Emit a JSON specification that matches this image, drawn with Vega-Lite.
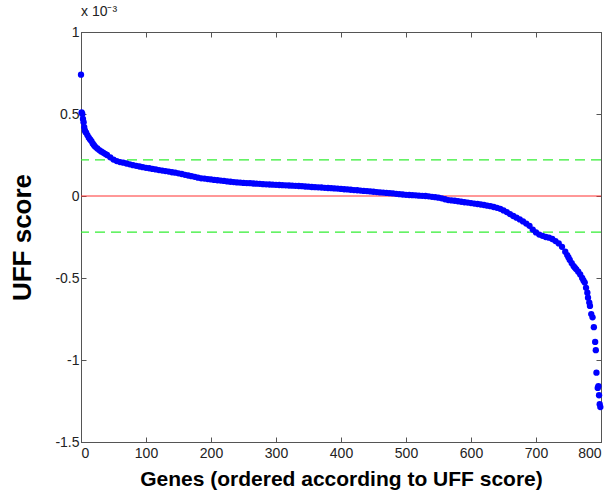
{
  "$schema": "https://vega.github.io/schema/vega-lite/v6.json",
  "width": 520,
  "height": 410,
  "autosize": {"type": "none"},
  "padding": {"left": 81, "top": 32, "right": 12, "bottom": 51},
  "background": "white",
  "title": {"text": "x 10⁻³", "anchor": "start", "frame": "group", "fontSize": 14, "fontWeight": "normal", "font": "Liberation Sans", "color": "#222", "offset": 6},
  "config": {
    "view": {"stroke": "#555", "strokeWidth": 1},
    "axis": {"grid": false, "domainColor": "#555", "tickColor": "#555", "tickSize": -5, "labelFont": "Liberation Sans", "labelFontSize": 14, "labelColor": "#222", "titleFont": "Liberation Sans", "titleFontWeight": "bold", "titleColor": "#000"}
  },
  "datasets": {
    "genes": [
      {"gene": 0, "score": 0.74}, {"gene": 1, "score": 0.51}, {"gene": 2, "score": 0.5}, {"gene": 3, "score": 0.47}, {"gene": 4, "score": 0.45},
      {"gene": 5, "score": 0.42}, {"gene": 6, "score": 0.4}, {"gene": 7, "score": 0.39}, {"gene": 8, "score": 0.385}, {"gene": 10, "score": 0.37},
      {"gene": 12, "score": 0.355}, {"gene": 14, "score": 0.345}, {"gene": 16, "score": 0.335}, {"gene": 18, "score": 0.32}, {"gene": 20, "score": 0.31},
      {"gene": 22, "score": 0.3}, {"gene": 25, "score": 0.29}, {"gene": 28, "score": 0.28}, {"gene": 31, "score": 0.272}, {"gene": 34, "score": 0.265},
      {"gene": 37, "score": 0.257}, {"gene": 40, "score": 0.25}, {"gene": 45, "score": 0.236}, {"gene": 50, "score": 0.222}, {"gene": 55, "score": 0.213},
      {"gene": 60, "score": 0.207}, {"gene": 65, "score": 0.203}, {"gene": 70, "score": 0.198}, {"gene": 75, "score": 0.193}, {"gene": 80, "score": 0.188},
      {"gene": 85, "score": 0.184}, {"gene": 90, "score": 0.18}, {"gene": 95, "score": 0.176}, {"gene": 100, "score": 0.172}, {"gene": 105, "score": 0.169},
      {"gene": 110, "score": 0.165}, {"gene": 115, "score": 0.162}, {"gene": 120, "score": 0.158}, {"gene": 125, "score": 0.155}, {"gene": 130, "score": 0.152},
      {"gene": 135, "score": 0.149}, {"gene": 140, "score": 0.145}, {"gene": 145, "score": 0.142}, {"gene": 150, "score": 0.138}, {"gene": 155, "score": 0.134},
      {"gene": 160, "score": 0.129}, {"gene": 165, "score": 0.125}, {"gene": 170, "score": 0.121}, {"gene": 175, "score": 0.117}, {"gene": 180, "score": 0.112},
      {"gene": 185, "score": 0.108}, {"gene": 190, "score": 0.106}, {"gene": 195, "score": 0.103}, {"gene": 200, "score": 0.101}, {"gene": 205, "score": 0.098},
      {"gene": 210, "score": 0.096}, {"gene": 215, "score": 0.094}, {"gene": 220, "score": 0.092}, {"gene": 225, "score": 0.089}, {"gene": 230, "score": 0.087},
      {"gene": 235, "score": 0.085}, {"gene": 240, "score": 0.083}, {"gene": 245, "score": 0.082}, {"gene": 250, "score": 0.08}, {"gene": 255, "score": 0.079},
      {"gene": 260, "score": 0.078}, {"gene": 265, "score": 0.076}, {"gene": 270, "score": 0.075}, {"gene": 275, "score": 0.074}, {"gene": 280, "score": 0.072},
      {"gene": 285, "score": 0.071}, {"gene": 290, "score": 0.07}, {"gene": 295, "score": 0.069}, {"gene": 300, "score": 0.068}, {"gene": 305, "score": 0.067},
      {"gene": 310, "score": 0.066}, {"gene": 315, "score": 0.065}, {"gene": 320, "score": 0.064}, {"gene": 325, "score": 0.063}, {"gene": 330, "score": 0.062},
      {"gene": 335, "score": 0.061}, {"gene": 340, "score": 0.06}, {"gene": 345, "score": 0.058}, {"gene": 350, "score": 0.057}, {"gene": 355, "score": 0.055},
      {"gene": 360, "score": 0.054}, {"gene": 365, "score": 0.053}, {"gene": 370, "score": 0.052}, {"gene": 375, "score": 0.05}, {"gene": 380, "score": 0.049},
      {"gene": 385, "score": 0.048}, {"gene": 390, "score": 0.046}, {"gene": 395, "score": 0.045}, {"gene": 400, "score": 0.043}, {"gene": 405, "score": 0.041},
      {"gene": 410, "score": 0.04}, {"gene": 415, "score": 0.038}, {"gene": 420, "score": 0.036}, {"gene": 425, "score": 0.035}, {"gene": 430, "score": 0.033},
      {"gene": 435, "score": 0.031}, {"gene": 440, "score": 0.03}, {"gene": 445, "score": 0.028}, {"gene": 450, "score": 0.026}, {"gene": 455, "score": 0.024},
      {"gene": 460, "score": 0.022}, {"gene": 465, "score": 0.021}, {"gene": 470, "score": 0.019}, {"gene": 475, "score": 0.017}, {"gene": 480, "score": 0.016},
      {"gene": 485, "score": 0.013}, {"gene": 490, "score": 0.011}, {"gene": 495, "score": 0.009}, {"gene": 500, "score": 0.007}, {"gene": 505, "score": 0.006},
      {"gene": 510, "score": 0.005}, {"gene": 515, "score": 0.004}, {"gene": 520, "score": 0.002}, {"gene": 525, "score": 0.001}, {"gene": 530, "score": 0.0},
      {"gene": 535, "score": -0.002}, {"gene": 540, "score": -0.005}, {"gene": 545, "score": -0.007}, {"gene": 550, "score": -0.01}, {"gene": 555, "score": -0.014},
      {"gene": 560, "score": -0.02}, {"gene": 565, "score": -0.025}, {"gene": 570, "score": -0.027}, {"gene": 575, "score": -0.029}, {"gene": 580, "score": -0.032},
      {"gene": 585, "score": -0.035}, {"gene": 590, "score": -0.038}, {"gene": 595, "score": -0.04}, {"gene": 600, "score": -0.043}, {"gene": 605, "score": -0.046},
      {"gene": 610, "score": -0.049}, {"gene": 615, "score": -0.052}, {"gene": 620, "score": -0.055}, {"gene": 625, "score": -0.059}, {"gene": 630, "score": -0.062},
      {"gene": 635, "score": -0.067}, {"gene": 640, "score": -0.072}, {"gene": 645, "score": -0.078}, {"gene": 650, "score": -0.088}, {"gene": 655, "score": -0.098},
      {"gene": 660, "score": -0.11}, {"gene": 665, "score": -0.122}, {"gene": 670, "score": -0.132}, {"gene": 675, "score": -0.143}, {"gene": 680, "score": -0.155},
      {"gene": 685, "score": -0.168}, {"gene": 690, "score": -0.182}, {"gene": 695, "score": -0.205}, {"gene": 700, "score": -0.222}, {"gene": 705, "score": -0.235},
      {"gene": 710, "score": -0.243}, {"gene": 715, "score": -0.25}, {"gene": 720, "score": -0.254}, {"gene": 725, "score": -0.262}, {"gene": 730, "score": -0.275},
      {"gene": 735, "score": -0.289}, {"gene": 740, "score": -0.31}, {"gene": 745, "score": -0.34}, {"gene": 748, "score": -0.36}, {"gene": 750, "score": -0.375},
      {"gene": 752, "score": -0.39}, {"gene": 755, "score": -0.41}, {"gene": 758, "score": -0.428}, {"gene": 760, "score": -0.438}, {"gene": 762, "score": -0.447},
      {"gene": 765, "score": -0.462}, {"gene": 768, "score": -0.478}, {"gene": 771, "score": -0.5}, {"gene": 773, "score": -0.515}, {"gene": 775, "score": -0.528},
      {"gene": 777, "score": -0.56}, {"gene": 779, "score": -0.59}, {"gene": 780, "score": -0.62}, {"gene": 782, "score": -0.65}, {"gene": 783, "score": -0.67},
      {"gene": 785, "score": -0.72}, {"gene": 787, "score": -0.74}, {"gene": 789, "score": -0.8}, {"gene": 791, "score": -0.89}, {"gene": 792, "score": -0.94},
      {"gene": 793, "score": -1.077}, {"gene": 795, "score": -1.17}, {"gene": 796, "score": -1.16}, {"gene": 797, "score": -1.215}, {"gene": 798, "score": -1.27},
      {"gene": 799, "score": -1.287}
    ],
    "thresholds": [{"level": 0.22}, {"level": -0.22}],
    "zero": [{"level": 0}]
  },
  "layer": [
    {
      "data": {"name": "zero"},
      "mark": {"type": "rule", "color": "#ff3030", "strokeWidth": 1},
      "encoding": {
        "y": {"field": "level", "type": "quantitative", "scale": {"domain": [-1.5, 1], "nice": false}, "axis": null}
      }
    },
    {
      "data": {"name": "thresholds"},
      "mark": {"type": "rule", "color": "#33ee33", "strokeWidth": 1.2, "strokeDash": [10, 6]},
      "encoding": {
        "y": {"field": "level", "type": "quantitative", "axis": null}
      }
    },
    {
      "data": {"name": "genes"},
      "mark": {"type": "point", "shape": "circle", "filled": true, "color": "#0000ff", "size": 40, "opacity": 1},
      "encoding": {
        "x": {"field": "gene", "type": "quantitative", "scale": {"domain": [0, 800], "nice": false},
              "axis": {"orient": "bottom", "values": [0, 100, 200, 300, 400, 500, 600, 700, 800], "labelPadding": 9, "title": "Genes (ordered according to UFF score)", "titleFontSize": 21, "titlePadding": 8}},
        "y": {"field": "score", "type": "quantitative",
              "axis": {"orient": "left", "values": [-1.5, -1, -0.5, 0, 0.5, 1], "labelExpr": "'' + datum.value", "labelPadding": 7, "title": "UFF score", "titleFontSize": 26, "titlePadding": 19}}
      }
    },
    {
      "data": {"name": "genes"},
      "mark": {"type": "point", "opacity": 0},
      "encoding": {
        "x": {"field": "gene", "type": "quantitative",
              "axis": {"orient": "top", "values": [0, 100, 200, 300, 400, 500, 600, 700, 800], "labels": false, "title": null}},
        "y": {"field": "score", "type": "quantitative",
              "axis": {"orient": "right", "values": [-1.5, -1, -0.5, 0, 0.5, 1], "labels": false, "title": null}}
      }
    }
  ],
  "resolve": {"axis": {"x": "independent", "y": "independent"}}
}
